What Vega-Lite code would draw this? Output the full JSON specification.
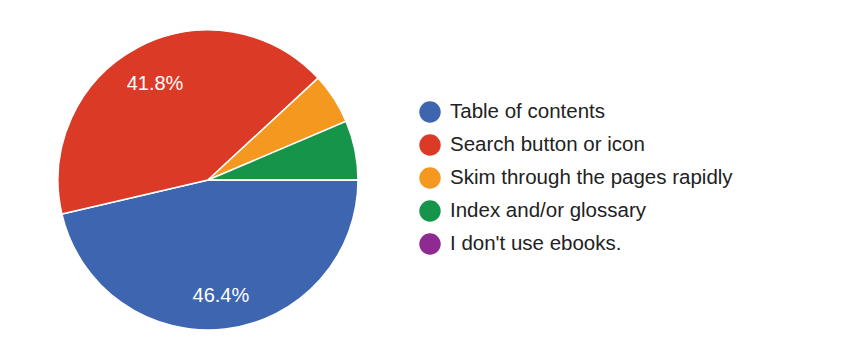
{
  "$schema": "https://vega.github.io/schema/vega-lite/v6.json",
  "autosize": {"type": "none"},
  "padding": {"left": 11, "top": 6, "right": 458, "bottom": 0},
  "width": 394,
  "height": 348,
  "background": "white",
  "config": {
    "view": {"stroke": null},
    "font": "Liberation Sans"
  },
  "data": {
    "values": [
      {"answer": "Table of contents", "share": 0.464, "order": 1},
      {"answer": "Search button or icon", "share": 0.418, "order": 2},
      {"answer": "Skim through the pages rapidly", "share": 0.055, "order": 3},
      {"answer": "Index and/or glossary", "share": 0.064, "order": 4},
      {"answer": "I don't use ebooks.", "share": 0.0, "order": 5}
    ]
  },
  "encoding": {
    "theta": {"field": "share", "type": "quantitative", "stack": true, "scale": {"range": [1.5707963, 7.8539816]}},
    "order": {"field": "order", "type": "quantitative"},
    "color": {
      "field": "answer",
      "type": "nominal",
      "scale": {
        "domain": ["Table of contents", "Search button or icon", "Skim through the pages rapidly", "Index and/or glossary", "I don't use ebooks."],
        "range": ["#3d65b0", "#db3a27", "#f4981f", "#16954a", "#8f2a92"]
      },
      "legend": {
        "title": null,
        "orient": "none",
        "legendX": 408,
        "legendY": 95,
        "symbolType": "circle",
        "symbolSize": 460,
        "symbolStrokeWidth": 0,
        "labelFontSize": 20.5,
        "labelColor": "#222222",
        "labelFont": "Liberation Sans",
        "labelOffset": 9,
        "rowPadding": 11,
        "labelLimit": 400
      }
    }
  },
  "layer": [
    {
      "mark": {"type": "arc", "outerRadius": 150, "stroke": "white", "strokeWidth": 1.5}
    },
    {
      "mark": {"type": "text", "radius": 113, "fontSize": 20, "fill": "white", "baseline": "middle", "align": "center", "dy": 4},
      "encoding": {
        "text": {"field": "share", "type": "quantitative", "format": ".1%"},
        "color": {"value": "white"},
        "opacity": {"condition": {"test": "datum.share < 0.1", "value": 0}, "value": 1}
      }
    }
  ]
}
